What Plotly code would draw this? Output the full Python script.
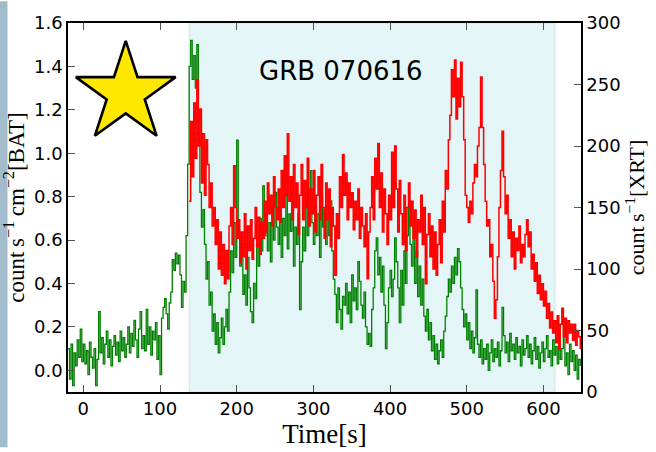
import plotly.graph_objects as go

# ---- data ----
bat_t0 = -20.0   # start time of BAT light curve [s]
bat_dt = 2.0     # BAT bin width [s]
bat_rate = [
    0.10, -0.04, 0.12, -0.07, 0.08, 0.02, 0.14, 0.06, 0.19, 0.04,
    0.12, 0.03, 0.09, -0.02, 0.13, 0.06, 0.01, 0.10, -0.07, 0.05,
    0.27, 0.08, 0.15, 0.03, 0.12, 0.18, 0.06, 0.14, 0.02, 0.11,
    0.16, 0.07, 0.13, 0.04, 0.18, 0.09, 0.15, 0.06, 0.12, 0.20,
    0.08, 0.17, 0.11, 0.23, 0.14, 0.06, 0.19, 0.27, 0.10, 0.16,
    0.09, 0.28, 0.12, 0.20, 0.07, 0.18, 0.14, 0.22, 0.05, 0.16,
    -0.02, 0.24, 0.29, 0.33, 0.26, 0.19, 0.31, 0.36, 0.51, 0.46,
    0.54, 0.49, 0.53, 0.44, 0.29, 0.41, 0.36, 0.62, 0.95, 1.40,
    1.52, 1.34, 1.45, 1.30, 1.50, 1.05, 0.82, 0.66, 0.74, 0.58,
    0.42, 0.50, 0.30, 0.36, 0.18, 0.26, 0.12, 0.22, 0.08, 0.15,
    0.24, 0.12, 0.20, 0.28, 0.18, 0.36, 0.55, 0.45, 0.68, 0.52,
    1.06, 0.62, 0.48, 0.56, 0.35, 0.44, 0.30, 0.52, 0.38, 0.27,
    0.22, 0.40, 0.33, 0.58, 0.48, 0.70, 0.55, 0.85, 0.62, 0.72,
    0.55, 0.68, 0.50, 0.76, 0.60, 0.82, 0.66, 0.58, 0.74, 0.52,
    0.70, 0.62, 0.80, 0.56, 0.72, 0.64, 0.78, 0.48, 0.66, 0.58,
    0.72, 0.28, 0.50, 0.66, 0.55, 0.78, 0.62, 0.70, 0.92, 0.68,
    0.58, 0.76, 0.62, 0.72, 0.52, 0.80, 0.66, 0.74, 0.58, 0.70,
    0.62, 0.78, 0.55, 0.42, 0.35, 0.22, 0.38, 0.28, 0.19, 0.34,
    0.30, 0.40, 0.26, 0.36, 0.22, 0.44, 0.32, 0.38, 0.28, 0.50,
    0.41, 0.30, 0.24, 0.36, 0.20, 0.12, 0.17, 0.11, 0.28, 0.38,
    0.55, 0.61, 0.44, 0.52, 0.36, 0.48, 0.30, 0.10, 0.22, 0.38,
    0.46, 0.34, 0.42, 0.61, 0.50, 0.38, 0.22, 0.46, 0.30, 0.55,
    0.40, 0.62, 0.76, 0.58, 0.48, 0.66, 0.40, 0.55, 0.34, 0.48,
    0.30, 0.42, 0.25, 0.18, 0.28, 0.14, 0.22, 0.09, 0.16, 0.05,
    0.12, 0.03, 0.09, 0.14, 0.06, 0.18, 0.25, 0.34, 0.42, 0.36,
    0.48, 0.40, 0.52, 0.44, 0.56, 0.50, 0.38, 0.28, 0.20, 0.26,
    0.14, 0.22, 0.10, 0.18, 0.08, 0.15, 0.37, 0.12, 0.06, 0.14,
    0.03, 0.10, 0.05, 0.12, 0.00, 0.08, 0.14, 0.04, 0.10, 0.06,
    0.13, 0.02, 0.09, 0.29, 0.16, 0.08, 0.13, 0.04, 0.17, 0.09,
    0.12, 0.05, 0.15, 0.08, 0.11, 0.02, 0.14, 0.07, 0.10, 0.16,
    0.06, 0.12, 0.03, 0.09, 0.15, 0.05, 0.11, 0.01, 0.08, 0.13,
    0.04, 0.10, 0.16, 0.06, 0.09, 0.02, 0.14, 0.07, 0.11, 0.03,
    0.18, 0.05, 0.10, 0.22, 0.02, 0.08, -0.02, 0.12, 0.04, 0.09,
    0.00, 0.07, -0.04, 0.05, 0.02,
]

xrt_t0 = 138.0   # start time of XRT light curve [s]
xrt_dt = 2.0     # XRT bin width [s]
xrt_rate = [
    155, 220, 175, 235, 190, 254, 200, 230, 170, 210,
    160, 205, 185, 150, 170, 135, 150, 120, 140, 100,
    130, 95, 120, 88, 115, 92, 135, 150, 120, 184,
    150, 125, 140, 105, 130, 110, 145, 100, 135, 115,
    140, 108, 125, 150, 118, 142, 112, 138, 125, 155,
    130, 170, 145, 160, 135, 175, 150, 140, 165, 138,
    180, 150, 192, 160, 210, 155, 175, 140, 185, 150,
    170, 128, 160, 185, 140, 172, 150, 190, 135, 165,
    145, 180, 130, 160, 175, 140, 185, 150, 125, 170,
    140, 165, 118, 150, 135, 95, 145, 125, 175, 150,
    193, 160, 178, 140, 170, 150, 162, 132, 155, 140,
    165, 125, 150, 135, 118, 145, 92, 130, 150, 175,
    140, 190, 165, 202, 150, 178, 130, 165, 145, 120,
    160, 140, 195, 150, 200, 165, 130, 172, 145, 120,
    160, 115, 150, 170, 135, 155, 125, 148, 110, 140,
    130, 160, 120, 150, 88, 128, 145, 110, 135, 100,
    130, 95, 120, 140, 105, 155, 130, 180, 165, 205,
    225, 262, 240, 270, 222, 255, 232, 268, 240, 205,
    160, 150, 138, 155, 145, 170, 185, 175, 200, 215,
    256, 215, 185, 155, 135, 140, 110, 120, 90, 60,
    75, 110, 150, 180, 212, 175, 145, 160, 125, 140,
    110, 130, 100, 125, 115, 135, 105, 120, 110, 128,
    140, 118, 130, 100, 112, 90, 105, 80, 95, 75,
    88, 70, 82, 60, 72, 52, 65, 48, 58, 40,
    62, 35, 55, 68, 45, 60, 40, 58, 48, 55,
    42, 55, 38, 50, 45, 35,
]

shade_start, shade_end = 138, 615
title_text = "GRB 070616"
x_ticks = [0, 100, 200, 300, 400, 500, 600]
y_ticks = [0.0, 0.2, 0.4, 0.6, 0.8, 1.0, 1.2, 1.4, 1.6]
y2_ticks = [0, 50, 100, 150, 200, 250, 300]

bat_t = [bat_t0 + bat_dt * i for i in range(len(bat_rate))]
xrt_t = [xrt_t0 + xrt_dt * i for i in range(len(xrt_rate))]

fig = go.Figure()

fig.add_trace(go.Scatter(
    x=bat_t, y=bat_rate, mode="lines", line=dict(color="#008000", width=1.3, shape="hv"),
    yaxis="y", showlegend=False, hoverinfo="skip"))
fig.add_trace(go.Scatter(
    x=xrt_t, y=xrt_rate, mode="lines", line=dict(color="#ff0000", width=1.5, shape="hv"),
    yaxis="y2", showlegend=False, hoverinfo="skip"))

# decorative star
fig.add_trace(go.Scatter(
    x=[55.3], y=[1.276], mode="markers", yaxis="y",
    marker=dict(symbol="star", size=75, color="#ffe800", line=dict(color="black", width=2.6)),
    showlegend=False, hoverinfo="skip"))

fig.add_vrect(x0=shade_start, x1=shade_end, fillcolor="#e3f5f6", opacity=1,
              layer="below", line=dict(color="#d3e3e6", width=1))

# left textured strip
fig.add_shape(type="rect", xref="paper", yref="paper",
              x0=-68 / 513, x1=-60.5 / 513, y0=-56 / 374, y1=1 + 22 / 374,
              fillcolor="#a3bccb", line_width=0, layer="below")

fig.add_annotation(text=title_text, x=336, y=1.38, xref="x", yref="y",
                   showarrow=False, font=dict(family="DejaVu Sans", size=26, color="black"))

tick_font = dict(family="DejaVu Sans", size=18, color="black")
serif = "Liberation Serif"

fig.update_layout(
    width=656, height=452,
    margin=dict(l=68, r=75, t=22, b=56),
    paper_bgcolor="white", plot_bgcolor="white",
    xaxis=dict(
        range=[-20, 649], tickvals=x_ticks, ticks="inside", ticklen=7, tickwidth=1.2,
        tickcolor="#555555", showline=True, linecolor="black", linewidth=1.5,
        mirror="ticks", showgrid=False, zeroline=False, tickfont=tick_font,
        title=dict(text="Time[s]", font=dict(family=serif, size=27, color="black"), standoff=2),
    ),
    yaxis=dict(
        range=[-0.1, 1.6], tickvals=y_ticks, tickformat=".1f", ticks="inside", ticklen=7,
        tickwidth=1.2, tickcolor="#555555", showline=True, linecolor="black", linewidth=1.5,
        showgrid=False, zeroline=False, tickfont=tick_font,
        title=dict(text="count\u2009s<sup>\u22121</sup>\u2009cm<sup>\u22122</sup>[BAT]",
                   font=dict(family=serif, size=23, color="black"), standoff=4),
    ),
    yaxis2=dict(
        range=[0, 300], tickvals=y2_ticks, ticks="inside", ticklen=7, tickwidth=1.2,
        tickcolor="#555555", showline=True, linecolor="black", linewidth=1.5,
        overlaying="y", side="right", showgrid=False, zeroline=False, tickfont=tick_font,
        title=dict(text="count\u2009s<sup>\u22121</sup>[XRT]",
                   font=dict(family=serif, size=22, color="black"), standoff=8),
    ),
)

fig.write_html("out.html")
